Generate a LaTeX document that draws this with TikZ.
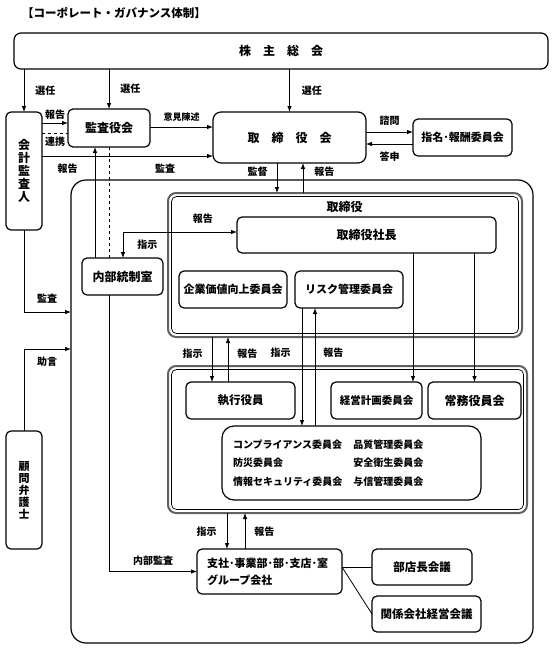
\documentclass[tikz,border=0pt]{standalone}
\usepackage{fontspec}
\setmainfont{Noto Sans CJK JP}
\usetikzlibrary{calc,arrows.meta}
\usetikzlibrary{positioning}
\tikzset{
  box/.style={draw, rounded corners=5, line width=1.2, outer sep=0,
    font=\bfseries\fontsize{12}{14}\selectfont, align=center},
  grp/.style={draw=black!62, line width=2, rounded corners=8, outer sep=0},
  arr/.style={-{Latex[length=6,width=4.5]}, line width=0.8},
  arrs/.style={{Latex[length=6,width=4.5]}-{Latex[length=6,width=4.5]}, line width=0.8},
  link/.style={dashed, line width=0.8},
  lbl/.style={inner sep=0, font=\bfseries\fontsize{10}{12}\selectfont},
}
\def\Inner(#1){%
  \draw[line width=0.7, rounded corners=5]
    ($(#1.north west)+(3.5,3.5)$) rectangle ($(#1.south east)+(-3.5,-3.5)$);
}

\begin{document}
\begin{tikzpicture}[x=1pt,y=-1pt]
  \useasboundingbox (0,0) rectangle (553,648);
  % Title
  \node[anchor=west, inner sep=0, font=\bfseries\fontsize{11.5}{14}\selectfont] (title)
    at (22,13) {【コーポレート・ガバナンス体制】};
  % Place the frames
  \node[draw, line width=1.2, rounded corners=15, outer sep=0,
    minimum width=462, minimum height=463] (group) at (302,411.5) {};
  \node[grp, minimum width=354, minimum height=144] (board) at (345,265) {};
  \node[grp, minimum width=359, minimum height=147] (exec) at (347.5,439.5) {};
  \Inner(board)
  \Inner(exec)
  \node[lbl, font=\bfseries\fontsize{12}{14}\selectfont] (boardname) at (344.5,207) {取締役};
  % Place the boxes
  \node[box, minimum width=534, minimum height=36, rounded corners=7] (meeting)
    at (281,51) {株　主　総　会};
  \node[box, minimum width=36, minimum height=118, font=\bfseries\fontsize{12}{13}\selectfont]
    (auditor) at (24,171) {会\\計\\監\\査\\人};
  \node[box, minimum width=82, minimum height=38] (kansa) at (109,128) {監査役会};
  \node[box, minimum width=153, minimum height=51, rounded corners=8] (torikai)
    at (289.5,137.5) {取　締　役　会};
  \node[box, minimum width=99, minimum height=37, font=\bfseries\fontsize{11}{13}\selectfont]
    (nomination) at (462.5,137.5) {指名･報酬委員会};
  \node[box, minimum width=259, minimum height=36] (president) at (366.5,235) {取締役社長};
  \node[box, minimum width=81, minimum height=37] (control) at (122.5,276.5) {内部統制室};
  \node[box, minimum width=108, minimum height=37, font=\bfseries\fontsize{11}{13}\selectfont]
    (value) at (233,289.5) {企業価値向上委員会};
  \node[box, minimum width=108, minimum height=37, font=\bfseries\fontsize{11}{13}\selectfont]
    (risk) at (349,289.5) {リスク管理委員会};
  \node[box, minimum width=109, minimum height=37, font=\bfseries\fontsize{11.5}{13}\selectfont]
    (officers) at (240.5,400.5) {執行役員};
  \node[box, minimum width=91, minimum height=37, font=\bfseries\fontsize{10.5}{12}\selectfont]
    (planning) at (376.5,400.5) {経営計画委員会};
  \node[box, minimum width=93, minimum height=37] (managing) at (474.5,400.5) {常務役員会};
  \node[box, rounded corners=12, minimum height=74, inner xsep=11, text width=237, align=left,
    font=\bfseries\fontsize{10}{18.5}\selectfont] (committees) at (351.5,463)
    {\begin{tabular}{@{}l@{\hspace{11pt}}l@{}}
      コンプライアンス委員会 & 品質管理委員会\\
      防災委員会 & 安全衛生委員会\\
      情報セキュリティ委員会 & 与信管理委員会
    \end{tabular}};
  \node[box, minimum height=45, inner xsep=10, text width=125, align=left,
    font=\bfseries\fontsize{11}{17}\selectfont] (branches) at (269.5,571.5)
    {支社･事業部･部･支店･室\\グループ会社};
  \node[box, minimum width=100, minimum height=36, font=\bfseries\fontsize{11.5}{13}\selectfont]
    (heads) at (422,567) {部店長会議};
  \node[box, minimum width=109, minimum height=36, font=\bfseries\fontsize{11.5}{13}\selectfont]
    (affiliates) at (426.5,614) {関係会社経営会議};
  \node[box, minimum width=36, minimum height=118, font=\bfseries\fontsize{11}{12}\selectfont]
    (lawyer) at (24,490) {顧\\問\\弁\\護\\士};
  % Election by the shareholders
  \draw[arr] (meeting.south -| auditor) -- node[lbl, right=11pt] {選任} (auditor.north);
  \draw[arr] (meeting.south -| kansa) -- node[lbl, right=11pt] {選任} (kansa.north);
  \draw[arr] (meeting.south -| torikai) -- node[lbl, right=12pt] {選任} (torikai.north);
  % Auditors
  \draw[arr] (auditor.east |- 0,123) -- node[lbl, above=3pt] {報告} (kansa.west |- 0,123);
  \draw[link] (auditor.east |- 0,133) -- node[lbl, below=4pt] {連携} (kansa.west |- 0,133);
  \draw[arr] (kansa.east |- 0,127) -- node[lbl, above=5pt, font=\bfseries\fontsize{9}{11}\selectfont]
    {意見陳述} (torikai.west |- 0,127);
  \draw[arr] (auditor.east |- 0,156) -- node[lbl, below=8pt, pos=0.72] {監査} (torikai.west |- 0,156);
  \draw[arr] (95,0 |- control.north) -- node[lbl, left=17pt, pos=0.8] {報告} (95,0 |- kansa.south);
  \draw[link] (kansa.south) -- (kansa.south |- control.north);
  % Board of directors
  \draw[arr] (277,0 |- torikai.south) -- node[lbl, left=9pt, pos=0.3] {監督} (277,0 |- board.north);
  \draw[arr] (303,0 |- board.north) -- node[lbl, right=11pt, pos=0.7] {報告} (303,0 |- torikai.south);
  \draw[arr] (torikai.east |- 0,132) -- node[lbl, above=6pt] {諮問} (nomination.west |- 0,132);
  \draw[arr] (nomination.west |- 0,144) -- node[lbl, below=7pt] {答申} (torikai.east |- 0,144);
  \draw[arrs] (123,0 |- control.north) |- node[lbl, right=14pt, pos=0.26] {指示}
    node[lbl, above=8pt, pos=0.85] {報告} (president.west |- 0,232);
  % Outside the company
  \draw[arr] (auditor.south) |- node[lbl, above=8pt, pos=0.745] {監査} (group.west |- 0,312);
  \draw[arr] (lawyer.north) |- node[lbl, below=8pt, pos=0.745] {助言} (group.west |- 0,349);
  % Board to executives
  \draw[arr] (212,0 |- board.south) -- node[lbl, left=9pt, pos=0.36] {指示} (212,0 |- officers.north);
  \draw[arr] (228,0 |- officers.north) -- node[lbl, right=9pt, pos=0.64] {報告} (228,0 |- board.south);
  \draw[arr] (302,0 |- risk.south) -- node[lbl, left=11pt, pos=0.38] {指示} (302,0 |- committees.north);
  \draw[arr] (315,0 |- committees.north) -- node[lbl, right=8pt, pos=0.62] {報告} (315,0 |- risk.south);
  \draw[arr] (413,0 |- president.south) -- (413,0 |- planning.north);
  \draw[arr] (president.south -| managing) -- (managing.north);
  % Executives to branches
  \draw[arr] (227,0 |- exec.south) -- node[lbl, left=10pt, pos=0.53] {指示} (227,0 |- branches.north);
  \draw[arr] (245,0 |- branches.north) -- node[lbl, right=9pt, pos=0.47] {報告} (245,0 |- exec.south);
  \draw[arr] (109,0 |- control.south) |- node[lbl, above=6pt, pos=0.75] {内部監査} (branches.west);
  \draw[line width=0.8] (branches.east |- heads.west) -- (heads.west);
  \draw[line width=0.8] (branches.east |- heads.west) -- (affiliates.west);
\end{tikzpicture}
\end{document}
